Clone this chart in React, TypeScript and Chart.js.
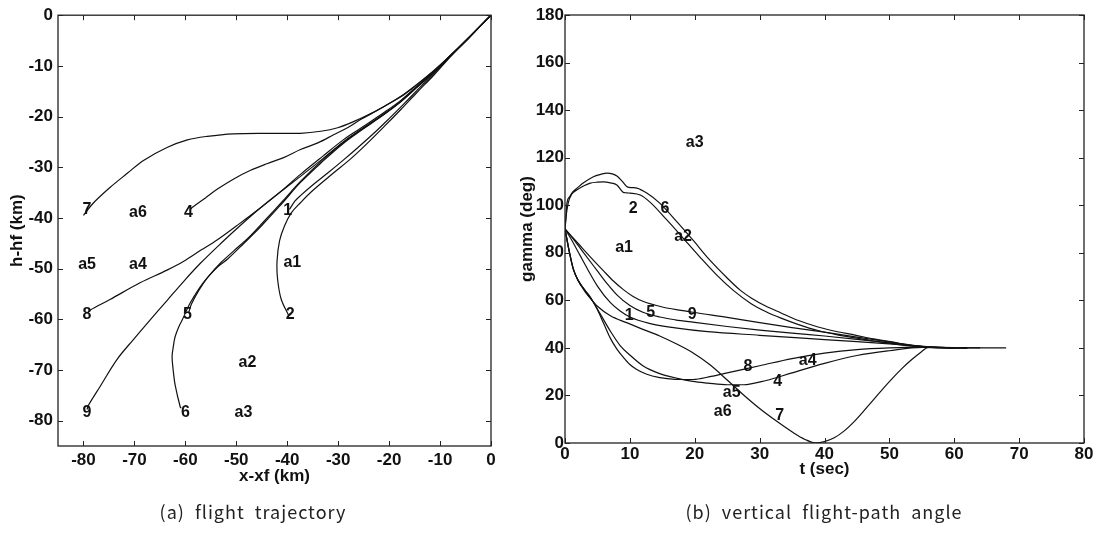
import React, { useEffect, useRef } from 'react';
import { Chart, registerables } from 'chart.js';
Chart.register(...registerables);

// ---------- Panel (a): flight trajectory ----------
const xTicksA = [-80, -70, -60, -50, -40, -30, -20, -10, 0];
const yTicksA = [0, -10, -20, -30, -40, -50, -60, -70, -80];

const xa7 = [-80, -78.1, -74.8, -71.4, -68.3, -63.6, -59.6, -55.7, -50.6, -43.9, -37.4, -33.4, -30.1, -27, -24.2, -21, -17.7, -14.5, -11.2, -7.8, -4.5, 0];
const ha7 = [-39.5, -37.1, -34.0, -31.2, -28.7, -26.1, -24.6, -23.9, -23.4, -23.3, -23.3, -22.9, -22.2, -21, -19.7, -18, -16.1, -13.7, -11, -7.8, -4.6, 0];

const xa4 = [-59, -58.6, -56, -53.7, -50.5, -47.2, -44, -40.7, -37.4, -34, -30.9, -28, -25.6, -22, -18, -14.5, -11.2, -7.8, -4.5, 0];
const ha4 = [-38.3, -37.9, -36, -34.3, -32.3, -30.6, -29.3, -28.1, -26.5, -25.2, -23.6, -22.1, -20.6, -18.6, -16.2, -13.6, -10.9, -7.8, -4.6, 0];

const xa8 = [-79, -78.7, -74.8, -68.9, -63.6, -60.4, -57, -53.7, -50, -46, -42, -37.4, -33, -29, -25.6, -21, -17.7, -14.5, -11.2, -7.8, -4.5, 0];
const ha8 = [-58.5, -58.2, -56.1, -52.8, -50.3, -48.6, -46.4, -44.3, -41.6, -38.6, -35.4, -31.4, -27.8, -24.6, -22.3, -19.2, -16.8, -14, -11.1, -7.8, -4.6, 0];

const xa9 = [-79.3, -79.1, -76.7, -73.4, -70.2, -66.9, -63.6, -60.4, -57.1, -53, -49, -45, -41, -37.4, -33, -29, -25.6, -21, -17.7, -14.5, -11.2, -7.8, -4.5, 0];
const ha9 = [-77.8, -77.1, -73.2, -67.9, -64, -60.1, -56.3, -52.6, -49, -45, -41.3, -37.8, -34.6, -31.8, -28.3, -25, -22.6, -19.5, -17, -14.1, -11.1, -7.8, -4.6, 0];

const xa6 = [-60.8, -61, -62, -62.4, -62.6, -62.3, -62, -61.3, -60.6, -59, -56.5, -53.7, -51.7, -48.5, -45, -41, -37.4, -33, -29, -25.6, -21, -17.7, -14.5, -11.2, -7.8, -4.5, 0];
const ha6 = [-77.5, -77.3, -73, -69.9, -67.3, -65, -63.4, -61.5, -60.1, -56.7, -52.8, -49.7, -48.1, -45, -41.5, -37.1, -33, -28.8, -25.3, -22.8, -19.6, -17.1, -14.2, -11.2, -7.9, -4.6, 0];

const xa5 = [-59.3, -58.8, -57.3, -55.5, -53, -50.5, -47.5, -44.5, -41, -37.4, -33, -29, -25.6, -21, -17.7, -14.5, -11.2, -7.8, -4.5, 0];
const ha5 = [-58.5, -57, -54.2, -51.6, -48.8, -46.5, -43.8, -40.6, -36.8, -32.8, -28.5, -25.1, -22.7, -19.5, -17, -14.2, -11.2, -7.9, -4.6, 0];

const xa1 = [-39.6, -39.5, -38.5, -37.4, -35, -32, -29, -26, -23, -20, -17, -14, -11.2, -7.8, -4.5, 0];
const ha1 = [-38.3, -38.2, -36.7, -35.6, -33.5, -31.1, -28.6, -26, -23.3, -20.4, -17.4, -14.3, -11.5, -7.9, -4.6, 0];

const xa2 = [-39.7, -41.2, -41.9, -42, -41.5, -40.5, -39.2, -37.4, -35, -31, -27.5, -24.2, -21, -17.7, -14.5, -11.2, -7.8, -4.5, 0];
const ha2 = [-59.3, -56, -52, -48.5, -44.5, -41.5, -39, -37, -34.6, -31.2, -28.3, -25.2, -22, -18.6, -15.2, -11.8, -8, -4.6, 0];

const annTextA = ['7', 'a6', '4', '1', 'a5', 'a4', 'a1', '8', '5', '2', 'a2', '9', '6', 'a3'];
const annXA = [-79.3, -69.3, -59.4, -39.9, -79.3, -69.3, -39.0, -79.3, -59.6, -39.4, -47.8, -79.3, -60.0, -48.6];
const annYA = [-38.3, -38.9, -38.9, -38.5, -49.3, -49.3, -48.9, -59.1, -59.1, -59.1, -68.5, -78.5, -78.5, -78.5];

// ---------- Panel (b): vertical flight-path angle ----------
const xTicksB = [0, 10, 20, 30, 40, 50, 60, 70, 80];
const yTicksB = [0, 20, 40, 60, 80, 100, 120, 140, 160, 180];

const tb1 = [0, 1, 2.3, 3.4, 5, 7, 8.5, 10, 13, 17, 22, 30, 40, 45, 50, 54, 56, 60];
const gb1 = [90, 85.5, 79, 73.5, 66, 59, 55.5, 53, 50.3, 48.4, 46.8, 45.3, 43.5, 42.6, 41.7, 40.8, 40.3, 40];

const tb5 = [0, 1.5, 3, 4.9, 6.5, 8, 10, 12, 14.6, 17, 19.7, 25, 30, 35, 40, 45, 50, 54, 56, 60];
const gb5 = [90, 85, 79.5, 72.7, 67, 62.3, 57.8, 55, 53, 51.8, 50.8, 49, 47.5, 46.2, 45, 43.6, 42.1, 40.9, 40.4, 40];

const tb9 = [0, 2, 4, 5.9, 7.5, 9, 10.5, 12, 15, 19.7, 25, 30, 35, 40, 45, 50, 54, 56, 62];
const gb9 = [90, 84, 78, 72.5, 68, 64.5, 61.6, 59.6, 57.2, 55, 52.8, 50.6, 48.5, 46.6, 44.5, 42.5, 41, 40.4, 40];

const tb7 = [0, 0.7, 1.3, 2, 3, 4, 5, 7, 9.6, 12, 14.6, 17.3, 19.7, 22.3, 25, 27.4, 30, 32.7, 35.1, 37, 38.5, 40, 41.5, 43, 44.5, 46, 47.5, 49, 50.5, 52, 53.5, 55, 56, 58, 62];
const gb7 = [90, 80, 73, 68.5, 64, 60.5, 57.5, 53.5, 50.5, 47.8, 45, 41.5, 38, 33, 26.5, 20.5, 14.5, 9, 4.5, 1.5, 0.1, 0.6, 2.2, 5, 8.8, 13.3, 18, 22.8, 27.3, 31.5, 35.2, 38.5, 40.2, 40.2, 40];

const tb8 = [0, 0.7, 1.3, 2, 3, 4, 5, 6, 7, 8, 9, 10, 11, 12.5, 14.6, 17, 19.7, 22.5, 25, 28, 30, 35, 40, 45, 50, 55, 58, 64];
const gb8 = [90, 80, 73, 68.5, 64.5, 61, 56, 50, 44, 39.5, 36, 33, 31, 29, 27.5, 26.8, 26.7, 28, 29.5, 31.3, 32.5, 35.5, 37.8, 39.3, 40, 40.3, 40.1, 40];

const tb4 = [0, 0.7, 1.3, 2, 3, 4.3, 5.5, 7, 8.5, 10, 12, 14.6, 17.3, 19.7, 22, 25, 27.5, 31, 35, 40, 45, 50, 55, 58, 68];
const gb4 = [90, 80, 73, 68.5, 64.5, 59.5, 54, 47, 41, 37, 32.5, 29.2, 27.2, 25.9, 25.2, 24.5, 24.5, 26.3, 29.5, 33.5, 36.8, 38.8, 40.2, 40.1, 40];

const tb6 = [0, 0.15, 0.3, 0.7, 1.2, 2, 2.8, 4.3, 5.5, 6.5, 7.3, 8, 8.9, 9.6, 10.3, 11.1, 12.6, 14.6, 17.3, 19.7, 22.3, 25, 27, 28.7, 31, 33.3, 36, 39, 42, 44.7, 47.5, 50.4, 53, 55.5, 58, 62];
const gb6 = [90, 95, 100.9, 103.5, 105.6, 107.5, 109.3, 111.9, 113, 113.5, 113.2, 112.3, 109.8, 107.7, 107.4, 107.2, 105.1, 100.9, 92.9, 85.4, 77, 69.4, 64.3, 61, 57.5, 54.7, 51.5, 48.8, 46.8, 45.4, 43.8, 42.5, 41.2, 40.4, 40.1, 40];

const tb2 = [0, 0.2, 0.5, 1, 1.8, 3, 3.9, 5, 5.9, 7, 8, 8.9, 9.5, 10, 11.6, 13.1, 15.7, 18.2, 20.8, 23.4, 25.9, 28.7, 31, 33.3, 36, 39, 42, 44.7, 47.5, 50.4, 53, 55.5, 58, 62];
const gb2 = [90, 96, 101, 104.5, 106.4, 108.3, 109.3, 109.7, 109.8, 109.4, 108.5, 105.6, 105.2, 105.1, 104.3, 101.3, 93.8, 86.2, 78.2, 70.6, 64.3, 58.6, 55.2, 52.5, 49.8, 47.3, 45.5, 44.2, 42.9, 41.8, 40.8, 40.3, 40.1, 40];

const annTextB = ['a3', '2', '6', 'a2', 'a1', '1', '5', '9', '8', 'a4', '4', 'a5', 'a6', '7'];
const annXB = [20.0, 10.5, 15.4, 18.2, 9.1, 9.9, 13.2, 19.6, 28.2, 37.4, 32.8, 25.7, 24.3, 33.1];
const annYB = [126.2, 98.4, 98.4, 86.6, 82.0, 53.4, 54.7, 53.8, 32.0, 34.5, 25.7, 21.4, 13.0, 11.4];

const FONT = '"Liberation Sans", Arial, Helvetica, sans-serif';

function zip(xs: number[], ys: number[]) {
  return xs.map((x, i) => ({ x, y: ys[i] }));
}

function decor(texts: string[], ax: number[], ay: number[], caption: string, cx: number, cy: number) {
  return {
    id: 'decor',
    afterDatasetsDraw(chart: any) {
      const { ctx, chartArea: a, scales } = chart;
      const xs = scales.x, ys = scales.y;
      ctx.save();
      ctx.strokeStyle = '#222';
      ctx.lineWidth = 1.3;
      ctx.strokeRect(a.left, a.top, a.right - a.left, a.bottom - a.top);
      const L = 5;
      ctx.lineWidth = 1;
      ctx.beginPath();
      xs.ticks.forEach((t: any) => {
        const p = Math.round(xs.getPixelForValue(t.value)) + 0.5;
        ctx.moveTo(p, a.bottom); ctx.lineTo(p, a.bottom - L);
        ctx.moveTo(p, a.top); ctx.lineTo(p, a.top + L);
      });
      ys.ticks.forEach((t: any) => {
        const p = Math.round(ys.getPixelForValue(t.value)) + 0.5;
        ctx.moveTo(a.left, p); ctx.lineTo(a.left + L, p);
        ctx.moveTo(a.right, p); ctx.lineTo(a.right - L, p);
      });
      ctx.stroke();
      ctx.fillStyle = '#111';
      ctx.font = 'bold 16px ' + FONT;
      ctx.textAlign = 'center';
      ctx.textBaseline = 'middle';
      texts.forEach((s, i) => {
        ctx.fillText(s, xs.getPixelForValue(ax[i]), ys.getPixelForValue(ay[i]));
      });
      ctx.font = '18px "Noto Sans CJK KR", "Noto Sans", sans-serif';
      (ctx as any).letterSpacing = '1px';
      ctx.fillStyle = '#222';
      ctx.fillText(caption, cx, cy);
      ctx.restore();
    },
  };
}

function lineDs(data: any[], monotone: boolean) {
  return {
    data,
    showLine: true,
    borderColor: '#111',
    borderWidth: 1.2,
    pointRadius: 0,
    fill: false,
    tension: monotone ? 0 : 0.35,
    cubicInterpolationMode: monotone ? 'monotone' : 'default',
  };
}

function scaleOpts(min: number, max: number, ticks: number[], title: string, fixed: number, horizontal: boolean, pad: number, titlePad: any) {
  return {
    type: 'linear',
    min,
    max,
    grid: { display: false, drawTicks: false },
    border: { display: false },
    afterBuildTicks: (s: any) => { s.ticks = ticks.map((v) => ({ value: v })); },
    afterFit: (s: any) => { if (horizontal) s.height = fixed; else s.width = fixed; },
    ticks: {
      autoSkip: false,
      maxRotation: 0,
      padding: pad,
      color: '#111',
      font: { family: FONT, size: 17, weight: 'bold' },
    },
    title: {
      display: true,
      text: title,
      color: '#111',
      font: { family: FONT, size: 17, weight: 'bold' },
      padding: titlePad,
    },
  };
}

function useChart(ref: any, cfgFn: () => any) {
  useEffect(() => {
    const chart = new Chart(ref.current, cfgFn());
    return () => chart.destroy();
  }, []);
}

export default function App() {
  const refA = useRef<HTMLCanvasElement>(null);
  const refB = useRef<HTMLCanvasElement>(null);

  useChart(refA, () => ({
    type: 'scatter',
    data: {
      datasets: [
        zip(xa7, ha7), zip(xa4, ha4), zip(xa8, ha8), zip(xa9, ha9),
        zip(xa6, ha6), zip(xa5, ha5), zip(xa1, ha1), zip(xa2, ha2),
      ].map((d) => lineDs(d, false)),
    },
    options: {
      animation: false,
      responsive: false,
      layout: { padding: { top: 14, right: 9, left: 0, bottom: 0 } },
      plugins: { legend: { display: false }, tooltip: { enabled: false } },
      scales: {
        x: scaleOpts(-85, 0, xTicksA, 'x-xf (km)', 92, true, 4, { top: 0, bottom: 51 }),
        y: scaleOpts(-85, 0, yTicksA, 'h-hf (km)', 58, false, 5, { top: 7, bottom: 0 }),
      },
    },
    plugins: [decor(annTextA, annXA, annYA, '(a)  flight  trajectory', 253, 512)],
  }));

  useChart(refB, () => ({
    type: 'scatter',
    data: {
      datasets: [
        zip(tb1, gb1), zip(tb5, gb5), zip(tb9, gb9), zip(tb7, gb7),
        zip(tb8, gb8), zip(tb4, gb4), zip(tb6, gb6), zip(tb2, gb2),
      ].map((d) => lineDs(d, true)),
    },
    options: {
      animation: false,
      responsive: false,
      layout: { padding: { top: 15, right: 20, left: 0, bottom: 0 } },
      plugins: { legend: { display: false }, tooltip: { enabled: false } },
      scales: {
        x: scaleOpts(0, 80, xTicksB, 't (sec)', 95, true, 1, { top: 0, bottom: 58 }),
        y: scaleOpts(0, 180, yTicksB, 'gamma (deg)', 65, false, 1, { top: 17, bottom: 0 }),
      },
    },
    plugins: [decor(annTextB, annXB, annYB, '(b)  vertical  flight-path  angle', 324, 512)],
  }));

  return (
    <div style={{ position: 'absolute', left: 0, top: 0, width: 1104, height: 538, background: '#fff' }}>
      <canvas ref={refA} width={500} height={538} style={{ position: 'absolute', left: 0, top: 0 }} />
      <canvas ref={refB} width={604} height={538} style={{ position: 'absolute', left: 500, top: 0 }} />
    </div>
  );
}
